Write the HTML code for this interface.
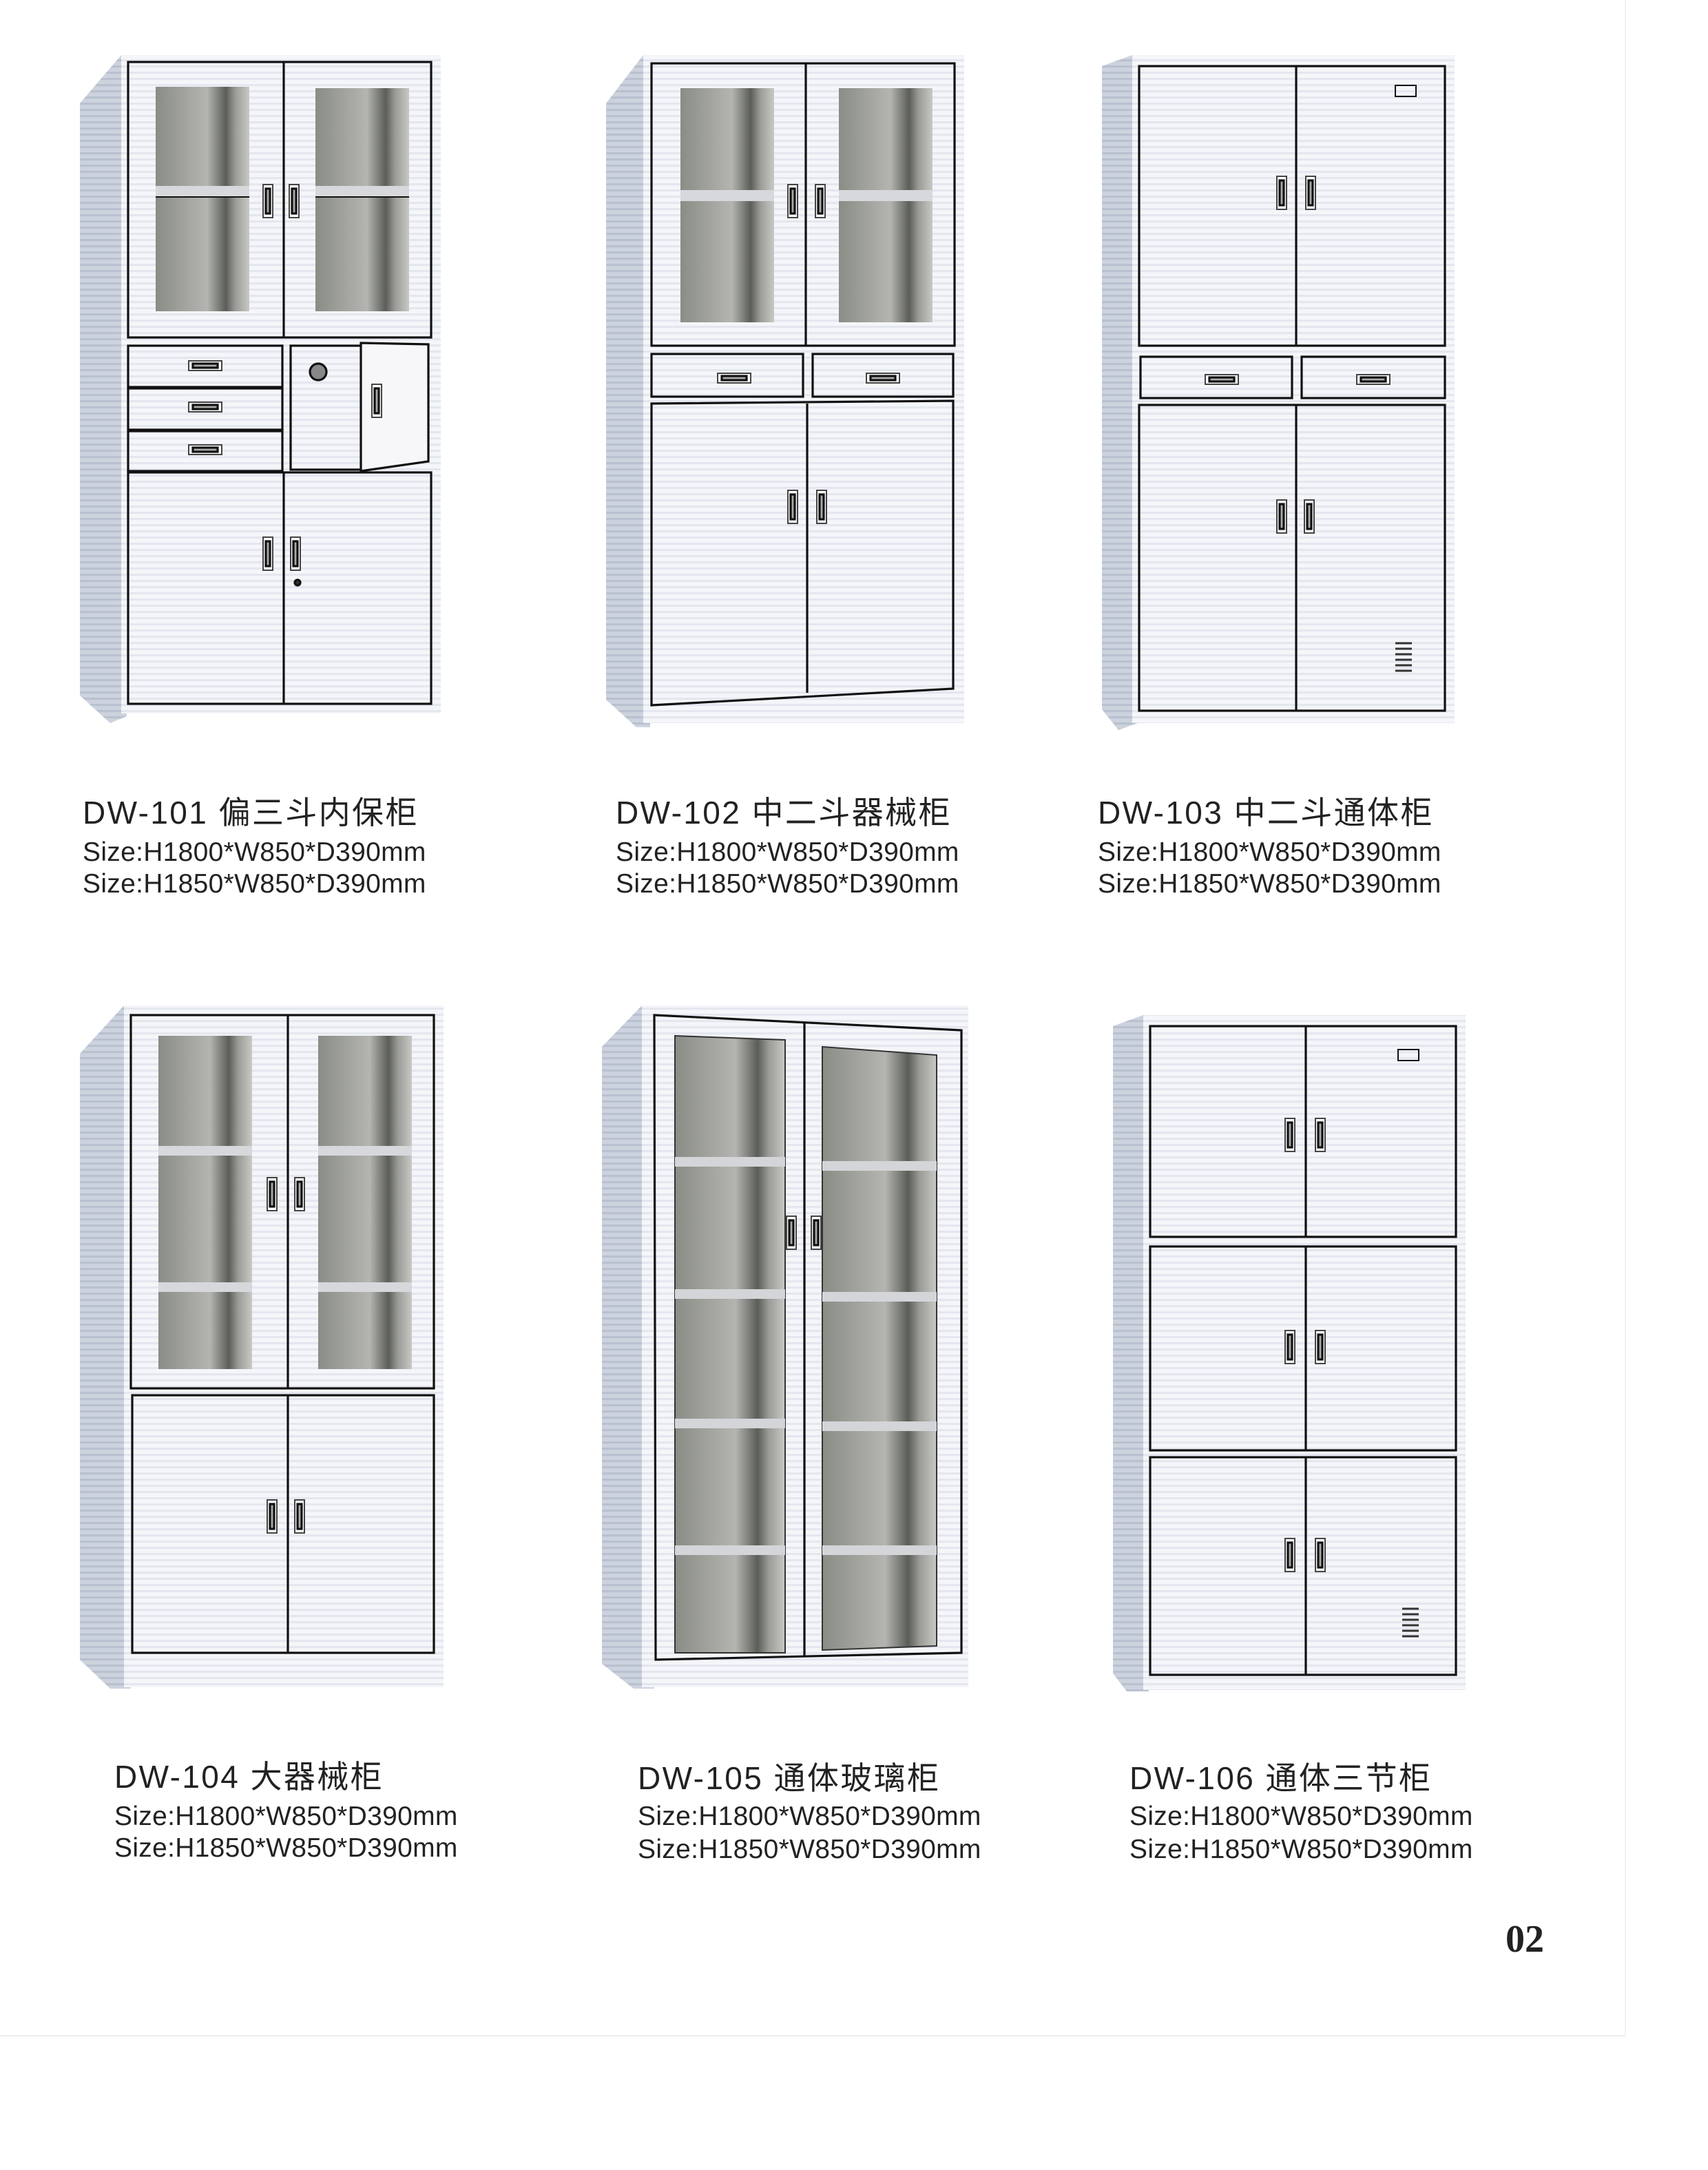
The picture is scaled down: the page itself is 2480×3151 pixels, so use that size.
<!DOCTYPE html>
<html><head><meta charset="utf-8"><style>
html,body{margin:0;padding:0;background:#fff}
svg{display:block}
text{font-family:"Liberation Sans","Noto Sans CJK SC",sans-serif;fill:#222}
</style></head><body>
<svg width="2480" height="3151" viewBox="0 0 1240 1575.5" xmlns="http://www.w3.org/2000/svg">
<defs>
<pattern id="st" width="10" height="4.5" patternUnits="userSpaceOnUse"><rect width="10" height="4.5" fill="#f5f6fa"/><rect y="2.5" width="10" height="1.6" fill="#e5e7ef"/></pattern>
<pattern id="sd" width="10" height="4.5" patternUnits="userSpaceOnUse"><rect width="10" height="4.5" fill="#cdd3de"/><rect y="2.5" width="10" height="1.6" fill="#b9c1d0"/></pattern>
<linearGradient id="gl" x1="0" y1="0" x2="1" y2="0"><stop offset="0" stop-color="#8a8c86"/><stop offset="0.55" stop-color="#b4b5b0"/><stop offset="0.75" stop-color="#5b5d58"/><stop offset="0.85" stop-color="#9a9b96"/><stop offset="1" stop-color="#c8c9c5"/></linearGradient>
<g id="h"><rect x="0" y="0" width="7" height="24" fill="#fff" stroke="#444" stroke-width="1"/><rect x="2" y="3" width="3" height="18" fill="#aaa"/></g>
<g id="dh"><rect x="0" y="0" width="24" height="7" fill="#fff" stroke="#444" stroke-width="1"/><rect x="3" y="2" width="18" height="3" fill="#aaa"/></g>
<g id="vent"><g stroke="#333" stroke-width="1.5"><line x1="0" y1="0" x2="12" y2="0"/><line x1="0" y1="4" x2="12" y2="4"/><line x1="0" y1="8" x2="12" y2="8"/><line x1="0" y1="12" x2="12" y2="12"/><line x1="0" y1="16" x2="12" y2="16"/><line x1="0" y1="20" x2="12" y2="20"/></g></g>
</defs>
<rect width="1240" height="1576" fill="#fff"/>
<g stroke="#111" stroke-width="1.6" fill="none">

<!-- Cabinet 1 -->
<polygon points="58,75 88,40 92,40 92,520 80,525 58,505" fill="url(#sd)" stroke="none"/>
<rect x="88" y="40" width="232" height="478" fill="url(#st)" stroke="none"/>
<rect x="93" y="45" width="220" height="200"/><line x1="206" y1="45" x2="206" y2="245"/>
<rect x="113" y="63" width="68" height="163" fill="url(#gl)" stroke="none"/><rect x="229" y="64" width="68" height="162" fill="url(#gl)" stroke="none"/>
<rect x="113" y="135" width="68" height="8" fill="#d7d8dc" stroke="none"/><rect x="229" y="135" width="68" height="8" fill="#d7d8dc" stroke="none"/>
<line x1="113" y1="143" x2="181" y2="143" stroke-width="1"/><line x1="229" y1="143" x2="297" y2="143" stroke-width="1"/>
<use href="#h" x="191" y="134"/><use href="#h" x="210" y="134"/>
<rect x="93" y="251" width="112" height="30"/><rect x="93" y="282" width="112" height="30"/><rect x="93" y="313" width="112" height="29"/>
<use href="#dh" x="137" y="262"/><use href="#dh" x="137" y="292"/><use href="#dh" x="137" y="323"/>
<rect x="211" y="251" width="52" height="90"/><polygon points="262,249 311,250 311,335 262,342" fill="#f7f7fa"/>
<circle cx="231" cy="270" r="6" fill="#888"/><use href="#h" x="270" y="279"/>
<rect x="93" y="343" width="220" height="168"/><line x1="206" y1="343" x2="206" y2="511"/>
<use href="#h" x="191" y="390"/><use href="#h" x="211" y="390"/><circle cx="216" cy="423" r="2" fill="#333"/>

<!-- Cabinet 2 -->
<polygon points="440,75 467,40 472,40 472,528 462,528 440,508" fill="url(#sd)" stroke="none"/>
<rect x="467" y="40" width="233" height="485" fill="url(#st)" stroke="none"/>
<rect x="473" y="46" width="220" height="205"/><line x1="585" y1="46" x2="585" y2="251"/>
<rect x="494" y="64" width="68" height="170" fill="url(#gl)" stroke="none"/><rect x="609" y="64" width="68" height="170" fill="url(#gl)" stroke="none"/>
<rect x="494" y="138" width="68" height="8" fill="#d7d8dc" stroke="none"/><rect x="609" y="138" width="68" height="8" fill="#d7d8dc" stroke="none"/>
<use href="#h" x="572" y="134"/><use href="#h" x="592" y="134"/>
<rect x="473" y="257" width="110" height="31"/><rect x="590" y="257" width="102" height="31"/>
<use href="#dh" x="521" y="271"/><use href="#dh" x="629" y="271"/>
<polygon points="473,293 692,291 692,500 473,512"/><line x1="586" y1="293" x2="586" y2="503"/>
<use href="#h" x="572" y="356"/><use href="#h" x="593" y="356"/>

<!-- Cabinet 3 -->
<polygon points="800,48 822,40 826,40 826,525 812,530 800,515" fill="url(#sd)" stroke="none"/>
<rect x="822" y="40" width="234" height="485" fill="url(#st)" stroke="none"/>
<rect x="827" y="48" width="222" height="203"/><line x1="941" y1="48" x2="941" y2="251"/>
<use href="#h" x="927" y="128"/><use href="#h" x="948" y="128"/>
<rect x="1013" y="62" width="15" height="8" stroke-width="1"/>
<rect x="828" y="259" width="110" height="30"/><rect x="945" y="259" width="104" height="30"/>
<use href="#dh" x="875" y="272"/><use href="#dh" x="985" y="272"/>
<rect x="827" y="294" width="222" height="222"/><line x1="941" y1="294" x2="941" y2="516"/>
<use href="#h" x="927" y="363"/><use href="#h" x="947" y="363"/>
<use href="#vent" x="1013" y="467"/>

<!-- Cabinet 4 -->
<polygon points="58,765 90,730 95,730 95,1226 80,1226 58,1205" fill="url(#sd)" stroke="none"/>
<rect x="90" y="730" width="232" height="495" fill="url(#st)" stroke="none"/>
<rect x="95" y="737" width="220" height="271"/><line x1="209" y1="737" x2="209" y2="1008"/>
<rect x="115" y="752" width="68" height="242" fill="url(#gl)" stroke="none"/><rect x="231" y="752" width="68" height="242" fill="url(#gl)" stroke="none"/>
<rect x="115" y="832" width="68" height="7" fill="#d7d8dc" stroke="none"/><rect x="231" y="832" width="68" height="7" fill="#d7d8dc" stroke="none"/>
<rect x="115" y="931" width="68" height="7" fill="#d7d8dc" stroke="none"/><rect x="231" y="931" width="68" height="7" fill="#d7d8dc" stroke="none"/>
<use href="#h" x="194" y="855"/><use href="#h" x="214" y="855"/>
<rect x="96" y="1013" width="219" height="187"/><line x1="209" y1="1013" x2="209" y2="1200"/>
<use href="#h" x="194" y="1089"/><use href="#h" x="214" y="1089"/>

<!-- Cabinet 5 -->
<polygon points="437,760 466,730 475,730 475,1226 460,1226 437,1208" fill="url(#sd)" stroke="none"/>
<rect x="466" y="730" width="237" height="495" fill="url(#st)" stroke="none"/>
<polygon points="475,737 698,748 698,1200 476,1205"/><line x1="584" y1="742" x2="584" y2="1203"/>
<polygon points="490,752 570,755 570,1200 490,1200" fill="url(#gl)" stroke="#333" stroke-width="1"/>
<polygon points="597,760 680,766 680,1195 597,1198" fill="url(#gl)" stroke="#333" stroke-width="1"/>
<g fill="#d4d5d9" stroke="none"><rect x="490" y="840" width="80" height="7"/><rect x="597" y="843" width="83" height="7"/><rect x="490" y="936" width="80" height="7"/><rect x="597" y="938" width="83" height="7"/><rect x="490" y="1030" width="80" height="7"/><rect x="597" y="1032" width="83" height="7"/><rect x="490" y="1122" width="80" height="7"/><rect x="597" y="1122" width="83" height="7"/></g>
<use href="#h" x="571" y="883"/><use href="#h" x="589" y="883"/>

<!-- Cabinet 6 -->
<polygon points="808,745 830,737 834,737 834,1228 818,1228 808,1215" fill="url(#sd)" stroke="none"/>
<rect x="830" y="737" width="234" height="490" fill="url(#st)" stroke="none"/>
<rect x="835" y="745" width="222" height="153"/><line x1="948" y1="745" x2="948" y2="898"/>
<rect x="835" y="905" width="222" height="148"/><line x1="948" y1="905" x2="948" y2="1053"/>
<rect x="835" y="1058" width="222" height="158"/><line x1="948" y1="1058" x2="948" y2="1216"/>
<rect x="1015" y="762" width="15" height="8" stroke-width="1"/>
<use href="#h" x="933" y="812"/><use href="#h" x="955" y="812"/>
<use href="#h" x="933" y="966"/><use href="#h" x="955" y="966"/>
<use href="#h" x="933" y="1117"/><use href="#h" x="955" y="1117"/>
<use href="#vent" x="1018" y="1168"/>
</g>

<g font-size="23" letter-spacing="1.2"><text x="60" y="598">DW-101 偏三斗内保柜</text><text x="447" y="598">DW-102  中二斗器械柜</text><text x="797" y="598">DW-103  中二斗通体柜</text>
<text x="83" y="1298">DW-104 大器械柜</text><text x="463" y="1299">DW-105  通体玻璃柜</text><text x="820" y="1299">DW-106  通体三节柜</text></g>
<g font-size="19.5" letter-spacing="0.15">
<text x="60" y="625">Size:H1800*W850*D390mm</text><text x="60" y="648">Size:H1850*W850*D390mm</text>
<text x="447" y="625">Size:H1800*W850*D390mm</text><text x="447" y="648">Size:H1850*W850*D390mm</text>
<text x="797" y="625">Size:H1800*W850*D390mm</text><text x="797" y="648">Size:H1850*W850*D390mm</text>
<text x="83" y="1325">Size:H1800*W850*D390mm</text><text x="83" y="1348">Size:H1850*W850*D390mm</text>
<text x="463" y="1325">Size:H1800*W850*D390mm</text><text x="463" y="1349">Size:H1850*W850*D390mm</text>
<text x="820" y="1325">Size:H1800*W850*D390mm</text><text x="820" y="1349">Size:H1850*W850*D390mm</text>
</g>
<text x="1093" y="1417" font-size="28" font-weight="bold" style="font-family:'Liberation Serif',serif">02</text>
<line x1="0" y1="1478" x2="1180" y2="1478" stroke="#eee" stroke-width="1"/>
<line x1="1180" y1="0" x2="1180" y2="1478" stroke="#f2f2f2" stroke-width="1"/>
</svg>
</body></html>
